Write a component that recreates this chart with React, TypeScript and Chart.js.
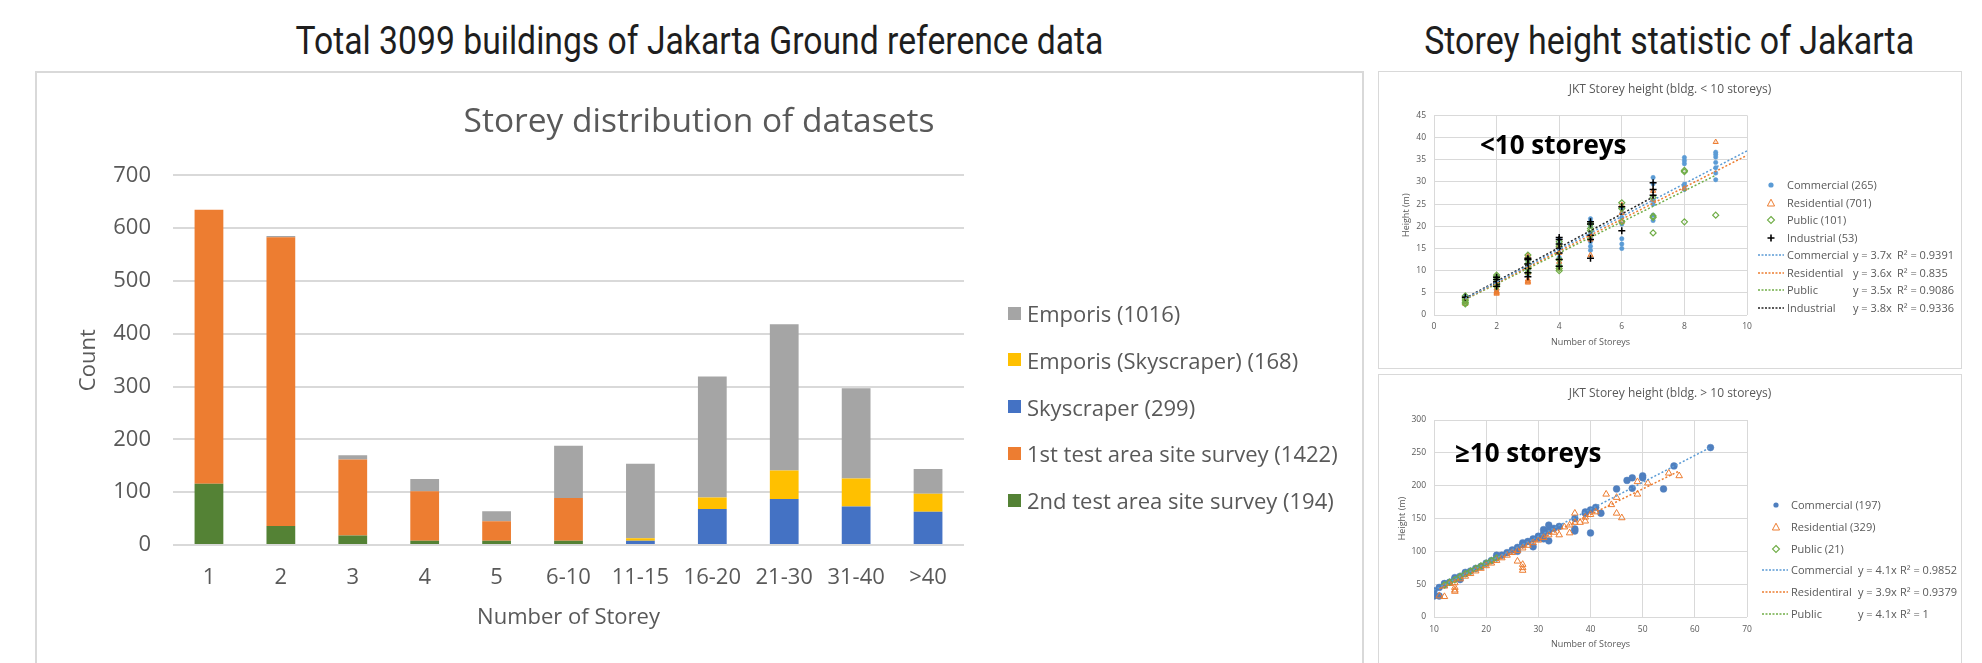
import React, { useEffect, useRef } from "react";
import { Chart, registerables } from "chart.js";

Chart.register(...registerables);

// ---------------- Storey distribution (stacked bars) ----------------
const storeyCategories = ["1", "2", "3", "4", "5", "6-10", "11-15", "16-20", "21-30", "31-40", ">40"];
const secondSurveyCounts = [116, 36, 18, 8, 8, 8, 0, 0, 0, 0, 0];
const firstSurveyCounts = [519, 547, 144, 94, 37, 81, 0, 0, 0, 0, 0];
const skyscraperCounts = [0, 0, 0, 0, 0, 0, 8, 68, 87, 73, 63];
const emporisSkyscraperCounts = [0, 0, 0, 0, 0, 0, 5, 22, 54, 53, 34];
const emporisCounts = [0, 2, 8, 23, 19, 99, 141, 229, 277, 171, 47];
const barSeriesLabels = [
  "2nd test area site survey (194)",
  "1st test area site survey (1422)",
  "Skyscraper (299)",
  "Emporis (Skyscraper) (168)",
  "Emporis (1016)",
];
const barSeriesColors = ["#548235", "#ED7D31", "#4472C4", "#FFC000", "#A5A5A5"];

// ---------------- Storey height < 10 storeys ----------------
const lowCommercial = [
  [1, 3.0], [1, 3.5], [1, 4.0], [1, 4.3],
  [2, 5.5], [2, 6.5], [2, 7.0], [2, 7.5], [2, 8.0], [2, 8.5],
  [3, 9.0], [3, 10.0], [3, 11.0], [3, 12.0], [3, 12.5],
  [4, 11.5], [4, 13.0], [4, 14.0], [4, 15.0], [4, 16.0], [4, 17.0],
  [5, 14.6], [5, 15.5], [5, 16.5], [5, 17.5], [5, 18.5], [5, 20.0], [5, 21.0], [5, 21.7],
  [6, 15.0], [6, 16.0], [6, 17.2], [6, 20.5], [6, 22.0], [6, 23.0], [6, 24.0],
  [7, 21.3], [7, 22.5], [7, 25.0], [7, 26.0], [7, 29.6], [7, 31.0],
  [8, 28.3], [8, 29.0], [8, 29.5], [8, 34.1], [8, 34.8], [8, 35.5],
  [9, 30.5], [9, 32.0], [9, 33.2], [9, 34.4], [9, 35.6], [9, 36.2], [9, 36.7],
];
const lowResidential = [
  [1, 2.5], [1, 3.0], [1, 3.5],
  [2, 4.8], [2, 5.0], [2, 5.2], [2, 5.4], [2, 6.0], [2, 7.0],
  [3, 7.3], [3, 7.5], [3, 7.7], [3, 8.0], [3, 9.5], [3, 11.0], [3, 13.3],
  [4, 10.5], [4, 12.0], [4, 14.0], [4, 15.5],
  [5, 13.5], [5, 17.0], [5, 18.0],
  [6, 21.0], [6, 23.0], [6, 24.8],
  [7, 26.0], [7, 28.0],
  [8, 28.5],
  [9, 39.0],
];
const lowPublic = [
  [1, 2.5], [1, 2.8], [1, 3.2], [1, 3.6], [1, 4.3],
  [2, 6.4], [2, 7.0], [2, 8.0], [2, 8.6], [2, 9.0],
  [3, 9.5], [3, 10.5], [3, 11.5], [3, 12.5], [3, 13.5],
  [4, 10.0], [4, 10.5], [4, 11.0], [4, 12.5], [4, 15.5], [4, 16.5],
  [5, 19.0], [5, 19.5], [5, 20.5],
  [6, 21.0], [6, 24.0], [6, 25.3],
  [7, 18.5], [7, 22.0], [7, 22.3], [7, 26.5],
  [8, 21.0], [8, 32.3], [8, 32.6],
  [9, 22.5],
];
const lowIndustrial = [
  [1, 4.0],
  [2, 6.5], [2, 7.0], [2, 7.5], [2, 8.0], [2, 8.5],
  [3, 8.6], [3, 9.5], [3, 10.5], [3, 11.5], [3, 12.5], [3, 12.8],
  [4, 11.0], [4, 12.5], [4, 14.0], [4, 15.0], [4, 16.0], [4, 17.0], [4, 17.5],
  [5, 12.8], [5, 17.0], [5, 18.0], [5, 20.5], [5, 21.0],
  [6, 19.0], [6, 24.4],
  [7, 27.0], [7, 28.3], [7, 29.8],
];
const lowCommercialTrend = [[1, 3.7], [10, 37]];
const lowResidentialTrend = [[1, 3.6], [10, 36]];
const lowPublicTrend = [[1, 3.5], [9, 31.5]];
const lowIndustrialTrend = [[1, 3.8], [7, 26.6]];
const lowXTicks = { min: 0, max: 10, step: 2 };
const lowYTicks = { min: 0, max: 45, step: 5 };
const lowLegendLabels = ["Commercial (265)", "Residential (701)", "Public (101)", "Industrial (53)"];
const lowTrendLabels = ["Commercial", "Residential", "Public", "Industrial"];
const lowTrendEquations = ["y = 3.7x", "y = 3.6x", "y = 3.5x", "y = 3.8x"];
const lowTrendR2 = ["R² = 0.9391", "R² = 0.835", "R² = 0.9086", "R² = 0.9336"];

// ---------------- Storey height >= 10 storeys ----------------
const highCommercial = [
  [10, 40], [10, 32], [11, 45], [11, 32], [12, 51], [12, 49], [13, 53], [14, 58], [14, 60],
  [15, 57], [15, 62], [16, 66], [16, 68], [17, 70], [18, 74], [19, 77], [20, 82], [21, 86],
  [22, 94], [22, 90], [23, 94], [24, 98], [25, 102], [26, 100], [26, 106], [27, 113], [27, 110],
  [28, 115], [29, 107], [29, 119], [30, 120], [30, 123], [31, 119], [31, 133], [31, 127],
  [32, 140], [32, 116], [32, 131], [33, 135], [34, 138], [37, 150], [37, 134], [37, 131],
  [39, 158], [39, 160], [40, 128], [40, 163], [41, 167], [42, 158], [45, 195], [47, 208],
  [48, 212], [48, 196], [50, 215], [50, 212], [54, 195], [56, 230], [63, 258],
];
const highResidential = [
  [11, 32], [12, 31], [12, 47], [13, 51], [14, 52], [14, 45], [14, 41], [14, 39], [15, 58],
  [16, 62], [17, 66], [18, 70], [19, 74], [20, 78], [21, 82], [22, 86], [23, 90], [24, 94],
  [25, 98], [26, 85], [26, 101], [27, 80], [27, 75], [27, 71], [27, 105], [28, 109], [29, 113],
  [30, 117], [31, 121], [32, 125], [33, 129], [34, 125], [35, 137], [36, 128], [36, 140],
  [37, 158], [37, 144], [38, 144], [39, 146], [39, 152], [40, 156], [41, 160], [43, 187],
  [44, 171], [45, 158], [45, 182], [46, 151], [49, 206], [49, 187], [51, 204], [55, 219], [57, 215],
];
const highPublic = [
  [12, 49], [13, 53], [14, 57], [15, 62], [16, 66], [17, 70], [18, 74], [19, 78], [20, 82], [21, 86], [22, 90],
];
const highCommercialTrend = [[10, 41], [63, 258.3]];
const highResidentialTrend = [[11, 42.9], [57, 222.3]];
const highPublicTrend = [[12, 49.2], [22, 90.2]];
const highXTicks = { min: 10, max: 70, step: 10 };
const highYTicks = { min: 0, max: 300, step: 50 };
const highLegendLabels = ["Commercial (197)", "Residential (329)", "Public (21)"];
const highTrendLabels = ["Commercial", "Residentiral", "Public"];
const highTrendEquations = ["y = 4.1x", "y = 3.9x", "y = 4.1x"];
const highTrendR2 = ["R² = 0.9852", "R² = 0.9379", "R² = 1"];

// ---------------- styling ----------------
const FONT = "'Open Sans', sans-serif";
const GREY = "#595959";
const GRID = "#d9d9d9";
const C_COM = "#5B9BD5";
const C_COM_DARK = "#4F7FBF";
const C_RES = "#ED7D31";
const C_PUB = "#70AD47";
const C_IND = "#000000";

const toPts = (arr: number[][]) => arr.map(([x, y]) => ({ x, y }));

function textWidth(text: string, font: string) {
  const ctx = document.createElement("canvas").getContext("2d")!;
  ctx.font = font;
  return ctx.measureText(text).width;
}

function ChartCanvas({ build, left, top, width, height }: any) {
  const ref = useRef<HTMLCanvasElement>(null);
  useEffect(() => {
    const chart = new Chart(ref.current!, build());
    return () => chart.destroy();
  }, []);
  return (
    <canvas
      ref={ref}
      width={width}
      height={height}
      style={{ position: "absolute", left, top, width, height }}
    />
  );
}

function buildBarConfig(): any {
  const datasets = [secondSurveyCounts, firstSurveyCounts, skyscraperCounts, emporisSkyscraperCounts, emporisCounts].map(
    (d, i) => ({
      label: barSeriesLabels[i],
      data: d,
      backgroundColor: barSeriesColors[i],
      borderWidth: 0,
      barPercentage: 0.4,
      categoryPercentage: 1,
    })
  );
  return {
    type: "bar",
    data: { labels: storeyCategories, datasets },
    options: {
      animation: false,
      responsive: false,
      maintainAspectRatio: false,
      layout: { padding: 0 },
      plugins: {
        legend: { display: false },
        tooltip: { enabled: false },
        title: {
          display: true,
          text: "Storey distribution of datasets",
          color: GREY,
          font: { family: FONT, size: 33.5, weight: "normal" },
          padding: { top: 28, bottom: 33.2 },
        },
      },
      scales: {
        x: {
          stacked: true,
          grid: { display: false, drawTicks: false },
          border: { display: false },
          ticks: { color: GREY, font: { family: FONT, size: 22 }, padding: 20, maxRotation: 0, autoSkip: false },
          title: {
            display: true,
            text: "Number of Storey",
            color: GREY,
            font: { family: FONT, size: 22 },
            padding: { top: 0, bottom: 32 },
          },
          afterFit: (s: any) => {
            s.height = 118;
          },
        },
        y: {
          stacked: true,
          min: 0,
          max: 700,
          ticks: { stepSize: 100, color: GREY, font: { family: FONT, size: 22 }, padding: 22 },
          grid: { color: GRID, lineWidth: 2, drawTicks: false },
          border: { display: false },
          title: {
            display: true,
            text: "Count",
            color: GREY,
            font: { family: FONT, size: 22 },
            padding: { top: 40, bottom: 0 },
          },
          afterFit: (s: any) => {
            s.width = 137;
          },
        },
        legendSpace: {
          type: "linear",
          axis: "y",
          position: "right",
          display: true,
          grid: { display: false, drawTicks: false },
          ticks: { display: false },
          border: { display: false },
          afterFit: (s: any) => {
            s.width = 398;
          },
        },
      },
    },
  };
}

function buildScatterConfig(o: any): any {
  return {
    type: "scatter",
    data: { datasets: o.datasets },
    options: {
      animation: false,
      responsive: false,
      maintainAspectRatio: false,
      layout: { padding: 0 },
      plugins: {
        legend: { display: false },
        tooltip: { enabled: false },
        title: {
          display: true,
          text: o.title,
          color: GREY,
          font: { family: FONT, size: 12, weight: "normal" },
          padding: { top: o.titleTop, bottom: o.titleBottom },
        },
      },
      scales: {
        x: {
          type: "linear",
          min: o.xTicks.min,
          max: o.xTicks.max,
          ticks: { stepSize: o.xTicks.step, color: GREY, font: { family: FONT, size: 8.5 }, padding: o.xTickPad },
          grid: { color: GRID, lineWidth: 1, drawTicks: false },
          border: { display: false },
          title: {
            display: true,
            text: "Number of Storeys",
            color: GREY,
            font: { family: FONT, size: 9 },
            padding: { top: 0, bottom: o.xTitlePad },
          },
          afterFit: (s: any) => {
            s.height = o.xHeight;
          },
        },
        y: {
          type: "linear",
          min: o.yTicks.min,
          max: o.yTicks.max,
          ticks: { stepSize: o.yTicks.step, color: GREY, font: { family: FONT, size: 8.5 }, padding: 8 },
          grid: { color: GRID, lineWidth: 1, drawTicks: false },
          border: { display: false },
          title: {
            display: true,
            text: "Height (m)",
            color: GREY,
            font: { family: FONT, size: 9 },
            padding: { top: o.yTitlePad, bottom: 0 },
          },
          afterFit: (s: any) => {
            s.width = 54;
          },
        },
        legendSpace: {
          type: "linear",
          axis: "y",
          position: "right",
          display: true,
          grid: { display: false, drawTicks: false },
          ticks: { display: false },
          border: { display: false },
          afterFit: (s: any) => {
            s.width = o.rightSpace;
          },
        },
      },
    },
  };
}

const trend = (pts: number[][], color: string) => ({
  data: toPts(pts),
  showLine: true,
  borderColor: color,
  borderWidth: 1.5,
  borderDash: [2, 2],
  pointRadius: 0,
  fill: false,
  order: 0,
});

function buildLowConfig() {
  return buildScatterConfig({
    title: "JKT Storey height (bldg. < 10 storeys)",
    titleTop: 9,
    titleBottom: 19,
    xTicks: lowXTicks,
    yTicks: lowYTicks,
    xTickPad: 6.5,
    xTitlePad: 19,
    xHeight: 52,
    yTitlePad: 21,
    rightSpace: 213,
    datasets: [
      { data: toPts(lowCommercial), pointStyle: "circle", pointRadius: 2.2, backgroundColor: C_COM, borderColor: C_COM, borderWidth: 0.5, order: 4 },
      { data: toPts(lowResidential), pointStyle: "triangle", pointRadius: 3, backgroundColor: "rgba(237,125,49,0.25)", borderColor: C_RES, borderWidth: 1, order: 3 },
      { data: toPts(lowPublic), pointStyle: "rectRot", pointRadius: 3, backgroundColor: "rgba(255,255,255,0)", borderColor: C_PUB, borderWidth: 1.2, order: 2 },
      { data: toPts(lowIndustrial), pointStyle: "cross", pointRadius: 3.5, borderColor: C_IND, borderWidth: 1.5, order: 1 },
      trend(lowCommercialTrend, C_COM),
      trend(lowResidentialTrend, C_RES),
      trend(lowPublicTrend, C_PUB),
      trend(lowIndustrialTrend, "#222222"),
    ],
  });
}

function buildHighConfig() {
  return buildScatterConfig({
    title: "JKT Storey height (bldg. > 10 storeys)",
    titleTop: 10,
    titleBottom: 19.6,
    xTicks: highXTicks,
    yTicks: highYTicks,
    xTickPad: 7,
    xTitlePad: 13,
    xHeight: 46,
    yTitlePad: 17,
    rightSpace: 213,
    datasets: [
      { data: toPts(highCommercial), pointStyle: "circle", pointRadius: 3.4, backgroundColor: C_COM_DARK, borderColor: C_COM_DARK, borderWidth: 0.5, order: 4 },
      { data: toPts(highResidential), pointStyle: "triangle", pointRadius: 3.8, backgroundColor: "rgba(255,255,255,0)", borderColor: C_RES, borderWidth: 1, order: 3 },
      { data: toPts(highPublic), pointStyle: "rectRot", pointRadius: 3, backgroundColor: "rgba(255,255,255,0)", borderColor: C_PUB, borderWidth: 1.2, order: 2 },
      trend(highCommercialTrend, C_COM),
      trend(highResidentialTrend, C_RES),
      trend(highPublicTrend, C_PUB),
    ],
  });
}

function Marker({ kind, color }: { kind: string; color: string }) {
  if (kind === "line") {
    return (
      <svg width={26} height={6}>
        <line x1={0} y1={3} x2={26} y2={3} stroke={color} strokeWidth={1.5} strokeDasharray="2 1.5" />
      </svg>
    );
  }
  return (
    <svg width={12} height={12}>
      {kind === "circle" && <circle cx={6} cy={6} r={2.6} fill={color} />}
      {kind === "triangle" && <polygon points="6,2.2 9.6,9 2.4,9" fill="none" stroke={color} strokeWidth={1} />}
      {kind === "diamond" && <polygon points="6,2.5 9.5,6 6,9.5 2.5,6" fill="none" stroke={color} strokeWidth={1.1} />}
      {kind === "cross" && <path d="M6 2.5V9.5M2.5 6H9.5" stroke={color} strokeWidth={1.6} />}
    </svg>
  );
}

function ScatterLegend({ rows, firstY, step, markerX, lineX, textX, eqX, r2X }: any) {
  const txt = (left: number, cy: number, s: string) => (
    <div style={{ position: "absolute", left, top: cy - 8, lineHeight: "16px", font: `11px ${FONT}`, color: GREY, whiteSpace: "nowrap" }}>
      {s}
    </div>
  );
  return (
    <>
      {rows.map((r: any, i: number) => {
        const cy = firstY + i * step;
        return (
          <React.Fragment key={i}>
            {r.kind === "line" ? (
              <div style={{ position: "absolute", left: lineX, top: cy - 3, height: 6, lineHeight: 0 }}>
                <Marker kind="line" color={r.color} />
              </div>
            ) : (
              <div style={{ position: "absolute", left: markerX - 6, top: cy - 6, height: 12, lineHeight: 0 }}>
                <Marker kind={r.kind} color={r.color} />
              </div>
            )}
            {txt(textX, cy, r.label)}
            {r.eq && txt(eqX, cy, r.eq)}
            {r.r2 && txt(r2X, cy, r.r2)}
          </React.Fragment>
        );
      })}
    </>
  );
}

function HeadTitle({ text, cx, targetWidth, top }: any) {
  const font = "38px Roboto";
  const w = textWidth(text, font);
  const s = targetWidth / w;
  return (
    <div
      style={{
        position: "absolute",
        left: cx - w / 2,
        top,
        width: w,
        font,
        lineHeight: "38px",
        whiteSpace: "nowrap",
        color: "#1e1e1e",
        transform: `scaleX(${s})`,
        transformOrigin: "center",
      }}
    >
      {text}
    </div>
  );
}

export default function App() {
  const barLegendOrder = [4, 3, 2, 1, 0];
  const lowMarkerKinds = ["circle", "triangle", "diamond", "cross"];
  const lowColors = [C_COM, C_RES, C_PUB, C_IND];
  const lowRows = [
    ...lowLegendLabels.map((l, i) => ({ kind: lowMarkerKinds[i], color: lowColors[i], label: l })),
    ...lowTrendLabels.map((l, i) => ({ kind: "line", color: i === 3 ? "#222" : lowColors[i], label: l, eq: lowTrendEquations[i], r2: lowTrendR2[i] })),
  ];
  const highColors = [C_COM_DARK, C_RES, C_PUB];
  const highLineColors = [C_COM, C_RES, C_PUB];
  const highRows = [
    ...highLegendLabels.map((l, i) => ({ kind: lowMarkerKinds[i], color: highColors[i], label: l })),
    ...highTrendLabels.map((l, i) => ({ kind: "line", color: highLineColors[i], label: l, eq: highTrendEquations[i], r2: highTrendR2[i] })),
  ];

  return (
    <div style={{ position: "fixed", left: 0, top: 0, width: 1982, height: 663, background: "#fff", overflow: "hidden" }}>
      <HeadTitle text="Total 3099 buildings of Jakarta Ground reference data" cx={699} targetWidth={808} top={22} />
      <HeadTitle text="Storey height statistic of Jakarta" cx={1669} targetWidth={490} top={22} />

      {/* main panel */}
      <div style={{ position: "absolute", left: 35, top: 71, width: 1329, height: 620, border: "2px solid #d9d9d9", boxSizing: "border-box" }} />
      <ChartCanvas build={buildBarConfig} left={36} top={74} width={1326} height={589} />
      {barLegendOrder.map((idx, i) => {
        const cy = 313 + i * 46.8;
        return (
          <React.Fragment key={idx}>
            <div style={{ position: "absolute", left: 1008, top: cy - 6.5, width: 13, height: 13, background: barSeriesColors[idx] }} />
            <div style={{ position: "absolute", left: 1027, top: cy - 15, lineHeight: "30px", font: `22px ${FONT}`, color: GREY, whiteSpace: "nowrap" }}>
              {barSeriesLabels[idx]}
            </div>
          </React.Fragment>
        );
      })}

      {/* top right panel */}
      <div style={{ position: "absolute", left: 1378, top: 71, width: 584, height: 298, border: "1px solid #d9d9d9", boxSizing: "border-box" }} />
      <ChartCanvas build={buildLowConfig} left={1380} top={73} width={580} height={294} />
      <div style={{ position: "absolute", left: 1480, top: 131, font: `bold 26px ${FONT}`, lineHeight: "26px", color: "#000", whiteSpace: "nowrap" }}>
        {"<10 storeys"}
      </div>
      <ScatterLegend rows={lowRows} firstY={185} step={17.5} markerX={1771} lineX={1758} textX={1787} eqX={1853} r2X={1897} />

      {/* bottom right panel */}
      <div style={{ position: "absolute", left: 1378, top: 374, width: 584, height: 320, border: "1px solid #d9d9d9", boxSizing: "border-box" }} />
      <ChartCanvas build={buildHighConfig} left={1380} top={376} width={580} height={287} />
      <div style={{ position: "absolute", left: 1455, top: 439, font: `bold 26px ${FONT}`, lineHeight: "26px", color: "#000", whiteSpace: "nowrap" }}>
        {"≥10 storeys"}
      </div>
      <ScatterLegend rows={highRows} firstY={505} step={21.8} markerX={1776} lineX={1762} textX={1791} eqX={1858} r2X={1900} />
    </div>
  );
}
